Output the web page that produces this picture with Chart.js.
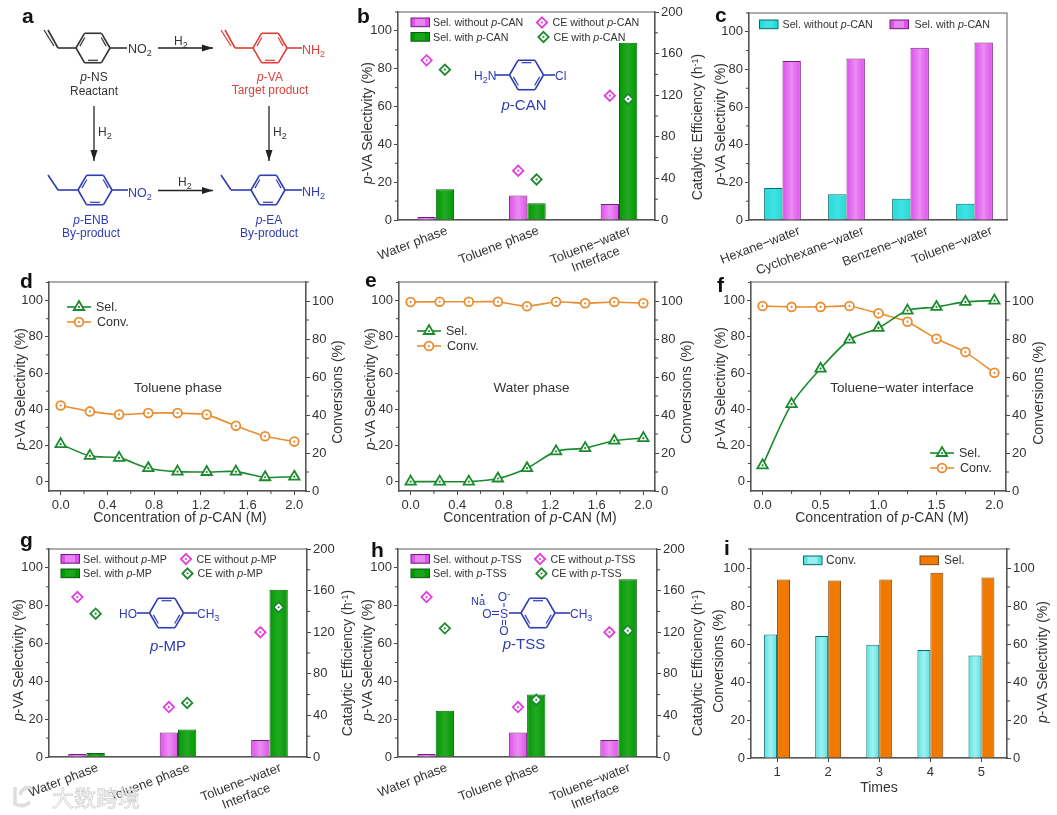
<!DOCTYPE html>
<html>
<head>
<meta charset="utf-8">
<script src="https://cdn.jsdelivr.net/npm/chart.js@4"></script>
<style>
    html, body { margin: 0; padding: 0; background: #fff; }
    #page { position: relative; width: 1057px; height: 815px; overflow: hidden; filter: blur(0.35px); }
    #page canvas { position: absolute; }
    #notes { position: absolute; left: 0; top: 0; }
    #notes text { font-family: "Liberation Sans", Arial, sans-serif; }
</style>
</head>
<body>
<div id="page"></div>
<script>
// categories
const phases = ['Water phase', 'Toluene phase', ['Toluene\u2212water', 'Interface']];
const solvents = ['Hexane\u2212water', 'Cyclohexane\u2212water', 'Benzene\u2212water', 'Toluene\u2212water'];
const concentrations = [0, 0.25, 0.5, 0.75, 1, 1.25, 1.5, 1.75, 2];
const cycles = [1, 2, 3, 4, 5];

// panel b
const bSelWithout = [1.6, 13, 8.5];
const bSelWith = [16.2, 8.8, 93.8];
const bCeWithout = [153.5, 47.4, 119.5];
const bCeWith = [144.5, 39, 116.3];
// panel c
const cSelWithout = [17, 13.7, 11.3, 8.6];
const cSelWith = [84.5, 85.8, 91.5, 94.3];
// panel d
const dSel = [20.7, 14.2, 13.1, 7.4, 5.5, 5.3, 5.5, 2.4, 2.7];
const dConv = [45, 41.9, 40.2, 41, 41, 40.2, 34.3, 28.8, 26];
// panel e
const eSel = [0, 0, 0, 1.7, 7.4, 16.7, 18.5, 22.6, 24];
const eConv = [99.5, 99.6, 99.6, 99.6, 97.2, 99.6, 98.8, 99.5, 98.8];
// panel f
const fSel = [9, 42.8, 62.4, 78.4, 84.9, 94.5, 96.5, 99.3, 100];
const fConv = [97.4, 96.9, 96.9, 97.4, 93.5, 89.1, 80.1, 73.1, 62.2];
// panel g
const gSelWithout = [1.6, 13, 9];
const gSelWith = [2.1, 14.5, 88.5];
const gCeWithout = [153.8, 48, 120];
const gCeWith = [137.8, 52, 144];
// panel h
const hSelWithout = [1.6, 13, 9];
const hSelWith = [24.5, 33, 94];
const hCeWithout = [153.8, 48, 120];
const hCeWith = [123.7, 55, 121.5];
// panel i
const iConv = [65, 64.2, 59.6, 56.8, 54];
const iSel = [94, 93.4, 94, 97.5, 95];

const MAGENTA = { fill: '#e050ec', edge: '#6e2078', point: '#e040dc' };
const GREEN = { fill: '#009a00', edge: '#0b5c12', point: '#1c8a30' };
const CYAN = { fill: '#22dcdc', edge: '#0d6a6a' };
const PALE_CYAN = { fill: '#55e4e4', edge: '#0a6a6a' };
const ORANGE = { fill: '#f07a00', edge: '#7c4a12' };
const LINE_GREEN = '#1b8a2c';
const LINE_ORANGE = '#e98d32';
const INK = '#333';

Chart.defaults.font.family = '"Liberation Sans", Arial, sans-serif';
Chart.defaults.font.size = 13;
Chart.defaults.color = INK;
Chart.defaults.animation = false;

// frame, minor ticks, rotated category labels, bar sheen and centre dots
const figurePlugin = {
    id: 'figure',
    beforeDraw(chart) {
        const a = chart.chartArea;
        chart.ctx.save();
        chart.ctx.strokeStyle = '#777';
        chart.ctx.lineWidth = 1.2;
        chart.ctx.strokeRect(a.left, a.top, a.right - a.left, a.bottom - a.top);
        chart.ctx.restore();
    },
    afterDatasetDraw(chart, args) {
        const ds = chart.data.datasets[args.index];
        const ctx = chart.ctx;
        ctx.save();
        args.meta.data.forEach(el => {
            if (ds.sheen) {
                const g = ctx.createLinearGradient(el.x - el.width / 2, 0, el.x + el.width / 2, 0);
                g.addColorStop(0, 'rgba(255,255,255,0)');
                g.addColorStop(0.5, 'rgba(255,255,255,' + ds.sheen + ')');
                g.addColorStop(1, 'rgba(255,255,255,0)');
                ctx.fillStyle = g;
                ctx.fillRect(el.x - el.width / 2 + 1, el.y + 1, el.width - 2, el.base - el.y - 1);
            }
            if (ds.dotColor) {
                ctx.fillStyle = ds.dotColor;
                ctx.beginPath();
                ctx.arc(el.x, el.y, 1.1, 0, Math.PI * 2);
                ctx.fill();
            }
        });
        ctx.restore();
    },
    afterDraw(chart) {
        const ctx = chart.ctx;
        ctx.save();
        ctx.strokeStyle = '#444';
        ctx.lineWidth = 1;
        Object.values(chart.scales).forEach(scale => {
            if (!scale.options.minorTicks) return;
            const values = scale.ticks.map(t => t.value);
            const step = values[1] - values[0];
            const minors = values.map(v => v + step / 2);
            minors.push(values[0] - step / 2);
            minors.forEach(v => {
                if (v < scale.min || v > scale.max) return;
                const p = scale.getPixelForValue(v);
                ctx.beginPath();
                if (scale.axis === 'x') {
                    ctx.moveTo(p, scale.top);
                    ctx.lineTo(p, scale.top + 3);
                } else if (scale.position === 'left') {
                    ctx.moveTo(scale.right, p);
                    ctx.lineTo(scale.right - 3, p);
                } else {
                    ctx.moveTo(scale.left, p);
                    ctx.lineTo(scale.left + 3, p);
                }
                ctx.stroke();
            });
        });
        ctx.restore();

        const slanted = chart.options.plugins.figure.slanted;
        if (!slanted) return;
        const x = chart.scales.x;
        ctx.save();
        ctx.fillStyle = INK;
        ctx.font = '13px "Liberation Sans", Arial, sans-serif';
        slanted.labels.forEach((label, i) => {
            const lines = [].concat(label);
            ctx.save();
            ctx.translate(x.getPixelForValue(i + 1) + slanted.shift, x.top + 10);
            ctx.rotate(-21 * Math.PI / 180);
            const w = ctx.measureText(lines[0]).width;
            ctx.textAlign = 'right';
            ctx.fillText(lines[0], 0, 4);
            if (lines[1]) {
                ctx.textAlign = 'center';
                ctx.fillText(lines[1], -w / 2, 19);
            }
            ctx.restore();
        });
        ctx.restore();
    }
};

function makeCanvas(rect, bottomRoom) {
    const canvas = document.createElement('canvas');
    canvas.width = rect.right - rect.left + 96;
    canvas.height = rect.bottom - rect.top + 10 + bottomRoom;
    canvas.style.left = (rect.left - 48) + 'px';
    canvas.style.top = (rect.top - 10) + 'px';
    canvas.style.width = canvas.width + 'px';
    canvas.style.height = canvas.height + 'px';
    document.getElementById('page').appendChild(canvas);
    return canvas;
}

function valueAxis(position, min, max, step, width) {
    return {
        type: 'linear',
        position: position,
        min: min,
        max: max,
        minorTicks: true,
        afterFit(scale) { scale.width = width; },
        border: { color: '#555', width: 1.2 },
        grid: { drawOnChartArea: false, tickLength: 4, tickColor: '#444' },
        ticks: { stepSize: step, includeBounds: false, padding: 2, autoSkip: false, callback: v => String(v) }
    };
}

function categoryAxis(min, max, room, tickOptions) {
    const axis = {
        type: 'linear',
        position: 'bottom',
        min: min,
        max: max,
        offset: false,
        afterFit(scale) { scale.height = room; },
        border: { color: '#555', width: 1.2 },
        grid: { drawOnChartArea: false, drawTicks: false, offset: false },
        ticks: { display: false, stepSize: 1, includeBounds: false }
    };
    if (tickOptions) {
        axis.grid = { drawOnChartArea: false, offset: false, tickLength: 4, tickColor: '#444' };
        axis.ticks = Object.assign({ padding: 3, includeBounds: false, autoSkip: false, maxRotation: 0 }, tickOptions);
    }
    return axis;
}

function barSet(values, colors, sheen) {
    return {
        type: 'bar',
        data: values.map((v, i) => ({ x: i + 1, y: v })),
        backgroundColor: colors.fill,
        borderColor: colors.edge,
        borderWidth: 1,
        barPercentage: 1,
        sheen: sheen,
        order: 2,
        yAxisID: 'y'
    };
}

function ceSet(values, color, shift) {
    return {
        type: 'line',
        data: values.map((v, i) => ({ x: i + 1 + shift, y: v })),
        showLine: false,
        pointStyle: 'rectRot',
        pointRadius: 5.2,
        pointBorderWidth: 1.8,
        pointBorderColor: color,
        pointBackgroundColor: '#fff',
        dotColor: color,
        order: 1,
        yAxisID: 'y1'
    };
}

function lineSet(values, color, style, radius, axisId, order, tension) {
    return {
        type: 'line',
        data: values.map((v, i) => ({ x: concentrations[i], y: v })),
        borderColor: color,
        borderWidth: 1.6,
        tension: tension,
        pointStyle: style,
        pointRadius: radius,
        pointBorderWidth: 1.8,
        pointBorderColor: color,
        pointBackgroundColor: '#fff',
        dotColor: color,
        order: order,
        yAxisID: axisId,
        clip: false
    };
}

function draw(canvas, datasets, scales, slanted) {
    return new Chart(canvas.getContext('2d'), {
        type: 'bar',
        data: { datasets: datasets },
        plugins: [figurePlugin],
        options: {
            responsive: false,
            events: [],
            layout: { padding: { top: 10, right: scales.y1 ? 0 : 48 } },
            plugins: {
                legend: { display: false },
                tooltip: { enabled: false },
                figure: { slanted: slanted }
            },
            scales: scales
        }
    });
}

function drawPhasePanel(rect, xMin, xMax, selWithout, selWith, ceWithout, ceWith) {
    const canvas = makeCanvas(rect, 58);
    const set1 = barSet(selWithout, MAGENTA, 0.35);
    const set2 = barSet(selWith, GREEN, 0.14);
    set1.categoryPercentage = set2.categoryPercentage = 0.4;
    draw(canvas, [
        set1, set2,
        ceSet(ceWithout, MAGENTA.point, -0.1),
        ceSet(ceWith, GREEN.point, 0.1)
    ], {
        x: categoryAxis(xMin, xMax, 58),
        y: valueAxis('left', 0, 110, 20, 48),
        y1: valueAxis('right', 0, 200, 40, 48)
    }, { labels: phases, shift: 11 });
}

function drawLinePanel(rect, xStep, sel, conv) {
    const canvas = makeCanvas(rect, 24);
    draw(canvas, [
        lineSet(conv, LINE_ORANGE, 'circle', 4.4, 'y1', 2, 0.15),
        lineSet(sel, LINE_GREEN, 'triangle', 6, 'y', 1, 0.3)
    ], {
        x: Object.assign(categoryAxis(-0.1, 2.1, 24, {
            stepSize: xStep,
            callback: v => v.toFixed(1)
        }), { minorTicks: true }),
        y: valueAxis('left', -5.2, 110.3, 20, 48),
        y1: valueAxis('right', 0, 110, 20, 48)
    });
}

// panel c
(function drawSolventPanel() {
    const canvas = makeCanvas({ left: 749, top: 13, right: 1007, bottom: 220 }, 58);
    const set1 = barSet(cSelWithout, CYAN, 0.15);
    const set2 = barSet(cSelWith, MAGENTA, 0.35);
    set1.categoryPercentage = set2.categoryPercentage = 0.574;
    draw(canvas, [set1, set2], {
        x: categoryAxis(0.477, 4.508, 58),
        y: valueAxis('left', 0, 110, 20, 48)
    }, { labels: solvents, shift: 17 });
})();

drawPhasePanel({ left: 398, top: 12, right: 655, bottom: 220 }, 0.588, 3.393, bSelWithout, bSelWith, bCeWithout, bCeWith);
drawLinePanel({ left: 49, top: 282, right: 306, bottom: 491 }, 0.4, dSel, dConv);
drawLinePanel({ left: 399, top: 282, right: 655, bottom: 491 }, 0.4, eSel, eConv);
drawLinePanel({ left: 751, top: 282, right: 1006, bottom: 491 }, 0.5, fSel, fConv);
drawPhasePanel({ left: 49, top: 549, right: 307, bottom: 757 }, 0.59, 3.41, gSelWithout, gSelWith, gCeWithout, gCeWith);
drawPhasePanel({ left: 398, top: 549, right: 657, bottom: 757 }, 0.588, 3.42, hSelWithout, hSelWith, hCeWithout, hCeWith);

// panel i
(function drawCyclePanel() {
    const canvas = makeCanvas({ left: 751, top: 549, right: 1007, bottom: 758 }, 24);
    const set1 = barSet(iConv, PALE_CYAN, 0.45);
    const set2 = barSet(iSel, ORANGE, 0);
    set1.categoryPercentage = set2.categoryPercentage = 0.507;
    draw(canvas, [set1, set2], {
        x: categoryAxis(0.49, 5.5, 24, { stepSize: 1, callback: v => String(v) }),
        y: valueAxis('left', 0, 110, 20, 48),
        y1: valueAxis('right', 0, 110, 20, 48)
    });
})();

// everything the axes cannot say: mixed-style titles, legends, structures, scheme
const P = '<tspan font-style="italic">p</tspan>';
const sub = t => '<tspan dy="3" font-size="9">' + t + '</tspan><tspan dy="-3">\u200b</tspan>';
let svg = '';

function text(x, y, content, size, anchor, fill, extra) {
    svg += '<text x="' + x + '" y="' + y + '" font-size="' + (size || 12) + '" text-anchor="' + (anchor || 'start') +
        '" fill="' + (fill || INK) + '" ' + (extra || '') + '>' + content + '</text>';
}

// x and y are the middle of the rotated title
function vtext(x, y, content) {
    svg += '<text x="' + (x + 4.5) + '" y="' + y + '" font-size="14" text-anchor="middle" fill="' + INK +
        '" transform="rotate(-90 ' + (x + 4.5) + ' ' + y + ')">' + content + '</text>';
}

function line(x1, y1, x2, y2, color, width) {
    svg += '<line x1="' + x1 + '" y1="' + y1 + '" x2="' + x2 + '" y2="' + y2 + '" stroke="' + color +
        '" stroke-width="' + (width || 1.6) + '"/>';
}

function arrow(x1, y1, x2, y2) {
    line(x1, y1, x2, y2, '#222', 1.3);
    if (y1 === y2) {
        svg += '<polygon fill="#222" points="' + x2 + ',' + y2 + ' ' + (x2 - 11) + ',' + (y2 - 3.5) + ' ' + (x2 - 11) + ',' + (y2 + 3.5) + '"/>';
    } else {
        svg += '<polygon fill="#222" points="' + x2 + ',' + y2 + ' ' + (x2 - 3.5) + ',' + (y2 - 11) + ' ' + (x2 + 3.5) + ',' + (y2 - 11) + '"/>';
    }
}

function ring(cx, cy, color, topBond) {
    const r = 17;
    const at = (deg, rad) => [cx + rad * Math.cos(deg * Math.PI / 180), cy + rad * Math.sin(deg * Math.PI / 180)];
    for (let d = 0; d < 360; d += 60) {
        const a = at(d, r), b = at(d + 60, r);
        line(a[0], a[1], b[0], b[1], color);
    }
    const inner = topBond ? [240, 0, 120] : [60, 180, 300];
    inner.forEach(d => {
        const a = at(d + 8, r * 0.78), b = at(d + 52, r * 0.78);
        line(a[0], a[1], b[0], b[1], color, 1.2);
    });
}

function swatch(x, y, colors, pale) {
    svg += '<rect x="' + x + '" y="' + y + '" width="18.5" height="8.7" fill="' + colors.fill + '" stroke="' + colors.edge + '" stroke-width="1"/>';
    if (pale) svg += '<rect x="' + (x + 4) + '" y="' + (y + 0.8) + '" width="10" height="7" fill="#fff" opacity="' + pale + '"/>';
}

function diamond(x, y, color) {
    const r = 5.2;
    svg += '<polygon points="' + x + ',' + (y - r) + ' ' + (x + r) + ',' + y + ' ' + x + ',' + (y + r) + ' ' + (x - r) + ',' + y +
        '" fill="#fff" stroke="' + color + '" stroke-width="1.8"/><circle cx="' + x + '" cy="' + y + '" r="1.1" fill="' + color + '"/>';
}

function phaseLegend(x, y, dx, name) {
    swatch(x, y, MAGENTA, 0.3);
    text(x + 22, y + 8, 'Sel. without ' + P + '-' + name, 10.7);
    swatch(x, y + 14.5, GREEN, 0.1);
    text(x + 22, y + 22.5, 'Sel. with ' + P + '-' + name, 10.7);
    diamond(x + dx, y + 4.5, MAGENTA.point);
    text(x + dx + 10.5, y + 8, 'CE without ' + P + '-' + name, 10.7);
    diamond(x + dx + 1.5, y + 19, GREEN.point);
    text(x + dx + 11.5, y + 22.5, 'CE with ' + P + '-' + name, 10.7);
}

function lineLegend(x, y) {
    line(x, y, x + 24, y, LINE_GREEN, 1.6);
    svg += '<polygon points="' + (x + 12) + ',' + (y - 6) + ' ' + (x + 17.2) + ',' + (y + 3) + ' ' + (x + 6.8) + ',' + (y + 3) +
        '" fill="#fff" stroke="' + LINE_GREEN + '" stroke-width="1.8"/><circle cx="' + (x + 12) + '" cy="' + y + '" r="1.1" fill="' + LINE_GREEN + '"/>';
    text(x + 29, y + 4, 'Sel.', 12.5);
    line(x, y + 15, x + 24, y + 15, LINE_ORANGE, 1.6);
    svg += '<circle cx="' + (x + 12) + '" cy="' + (y + 15) + '" r="4.4" fill="#fff" stroke="' + LINE_ORANGE +
        '" stroke-width="1.8"/><circle cx="' + (x + 12) + '" cy="' + (y + 15) + '" r="1.1" fill="' + LINE_ORANGE + '"/>';
    text(x + 30, y + 19, 'Conv.', 12.5);
}

// panel letters
[['a', 22, 23], ['b', 357, 23], ['c', 715, 22], ['d', 20, 288], ['e', 365, 287], ['f', 717, 292], ['g', 20, 547], ['h', 371, 557], ['i', 724, 555]]
    .forEach(l => text(l[1], l[2], l[0], 21, 'start', '#111', 'font-weight="bold"'));

// axis titles
const selTitle = P + '-VA Selectivity (%)';
const convTitle = 'Conversions (%)';
const ceTitle = 'Catalytic Efficiency (h<tspan dy="-4" font-size="9">-1</tspan><tspan dy="4">)</tspan>';
const concTitle = 'Concentration of ' + P + '-CAN (M)';
[[367, 123], [720, 124], [20, 389], [370, 389], [720, 388], [18, 660], [367, 660], [1042, 662]]
    .forEach(t => vtext(t[0], t[1], selTitle));
[[337, 392], [686, 392], [1038, 393], [718, 661]].forEach(t => vtext(t[0], t[1], convTitle));
[[697, 127], [347, 663], [697, 663]].forEach(t => vtext(t[0], t[1], ceTitle));
[180, 530, 882].forEach(x => text(x, 522, concTitle, 14, 'middle'));
text(879, 792, 'Times', 14, 'middle');

// legends
phaseLegend(411, 18, 131, 'CAN');
phaseLegend(61, 554.5, 125, 'MP');
phaseLegend(411, 554.5, 129, 'TSS');
swatch(759.5, 20, CYAN, 0.15);
text(782.5, 28, 'Sel. without ' + P + '-CAN', 10.7);
swatch(890, 20, MAGENTA, 0.3);
text(914.5, 28, 'Sel. with ' + P + '-CAN', 10.7);
lineLegend(67, 307);
lineLegend(417, 331);
lineLegend(930, 453);
swatch(803.5, 556, PALE_CYAN, 0.4);
text(826, 563.5, 'Conv.', 12);
swatch(920, 556, ORANGE);
text(944, 563.5, 'Sel.', 12);

// panel notes
text(178, 392, 'Toluene phase', 13.5, 'middle');
text(531.5, 392, 'Water phase', 13.5, 'middle');
text(902, 392, 'Toluene\u2212water interface', 13.5, 'middle');

// scheme a
const RED = '#de3f3a';
const BLUE = '#2f3cb4';
const BLACK = '#333';
function vinyl(x, y, color) {
    line(x, y, x - 18, y, color);
    line(x - 18, y, x - 28, y - 18, color);
    line(x - 22, y - 2, x - 32, y - 18, color, 1.2);
}
function ethyl(x, y, color) {
    line(x, y, x - 20, y, color);
    line(x - 20, y, x - 30, y - 15, color);
}
ring(93, 48, BLACK);
vinyl(76, 48, BLACK);
line(110, 48, 127, 48, BLACK);
text(128, 53, 'NO' + sub(2), 12.5, 'start', BLACK);
text(94, 81, P + '-NS', 12, 'middle', BLACK);
text(94, 95, 'Reactant', 12, 'middle', BLACK);
ring(270, 48, RED);
vinyl(253, 48, RED);
line(287, 48, 302, 48, RED);
text(302, 54, 'NH' + sub(2), 12.5, 'start', RED);
text(270, 81, P + '-VA', 12, 'middle', RED);
text(270, 94, 'Target product', 12, 'middle', RED);
ring(95, 190, BLUE);
ethyl(78, 190, BLUE);
line(112, 190, 128, 190, BLUE);
text(128, 197, 'NO' + sub(2), 12.5, 'start', BLUE);
text(91, 224, P + '-ENB', 12, 'middle', BLUE);
text(91, 237, 'By-product', 12, 'middle', BLUE);
ring(268, 190, BLUE);
ethyl(251, 190, BLUE);
line(285, 190, 302, 190, BLUE);
text(302, 196, 'NH' + sub(2), 12.5, 'start', BLUE);
text(269, 224, P + '-EA', 12, 'middle', BLUE);
text(269, 237, 'By-product', 12, 'middle', BLUE);
arrow(158, 48, 213, 48);
text(174, 45, 'H' + sub(2), 12, 'start', BLACK);
arrow(158, 190.5, 213, 190.5);
text(178, 186, 'H' + sub(2), 12, 'start', BLACK);
arrow(94, 106, 94, 161);
text(98, 136, 'H' + sub(2), 12, 'start', BLACK);
arrow(269, 106, 269, 161);
text(273, 136, 'H' + sub(2), 12, 'start', BLACK);

// structures inside b, g and h
ring(526.5, 75, BLUE, true);
line(495, 75, 509.5, 75, BLUE);
line(543.5, 75, 555, 75, BLUE);
text(474, 80, 'H' + sub(2) + 'N', 12, 'start', BLUE);
text(555, 80, 'Cl', 12, 'start', BLUE);
text(524, 110, P + '-CAN', 15, 'middle', BLUE);

ring(166.5, 613, BLUE, true);
line(137, 613, 149.5, 613, BLUE);
line(183.5, 613, 197, 613, BLUE);
text(119, 618, 'HO', 12, 'start', BLUE);
text(197, 618, 'CH' + sub(3), 12, 'start', BLUE);
text(168, 651, P + '-MP', 15, 'middle', BLUE);

ring(538, 613, BLUE, true);
line(509, 613, 521, 613, BLUE);
line(555, 613, 570, 613, BLUE);
text(570, 618, 'CH' + sub(3), 12, 'start', BLUE);
text(504, 618, 'S', 12, 'middle', BLUE);
text(487, 618, 'O', 12, 'middle', BLUE);
text(504, 601, 'O<tspan dy="-4" font-size="9">-</tspan>', 12, 'middle', BLUE);
text(504, 635, 'O', 12, 'middle', BLUE);
line(492, 611.5, 499, 611.5, BLUE, 1.1);
line(492, 614.5, 499, 614.5, BLUE, 1.1);
line(504, 603, 504, 607, BLUE, 1.1);
line(502.5, 620, 502.5, 625, BLUE, 1.1);
line(505.5, 620, 505.5, 625, BLUE, 1.1);
text(471, 605, 'Na', 11, 'start', BLUE);
svg += '<circle cx="482" cy="595" r="1.1" fill="' + BLUE + '"/>';
text(524, 649, P + '-TSS', 15, 'middle', BLUE);

// watermark over panel g
svg += '<g fill="none" stroke="#ddd" stroke-width="3.5" opacity="0.95"><path d="M15 787 L15 804 Q24 808 30 802"/><path d="M32 788 Q22 786 20 795"/></g>';
text(52, 806, '\u5927\u6570\u8de8\u5883', 22, 'start', '#fff',
    'style="font-family:\'Noto Sans CJK SC\'" stroke="#cfcfcf" stroke-width="0.8" opacity="0.9"');

const overlay = document.createElementNS('http://www.w3.org/2000/svg', 'svg');
overlay.setAttribute('id', 'notes');
overlay.setAttribute('width', '1057');
overlay.setAttribute('height', '815');
overlay.innerHTML = svg;
document.getElementById('page').appendChild(overlay);
</script>
</body>
</html>
